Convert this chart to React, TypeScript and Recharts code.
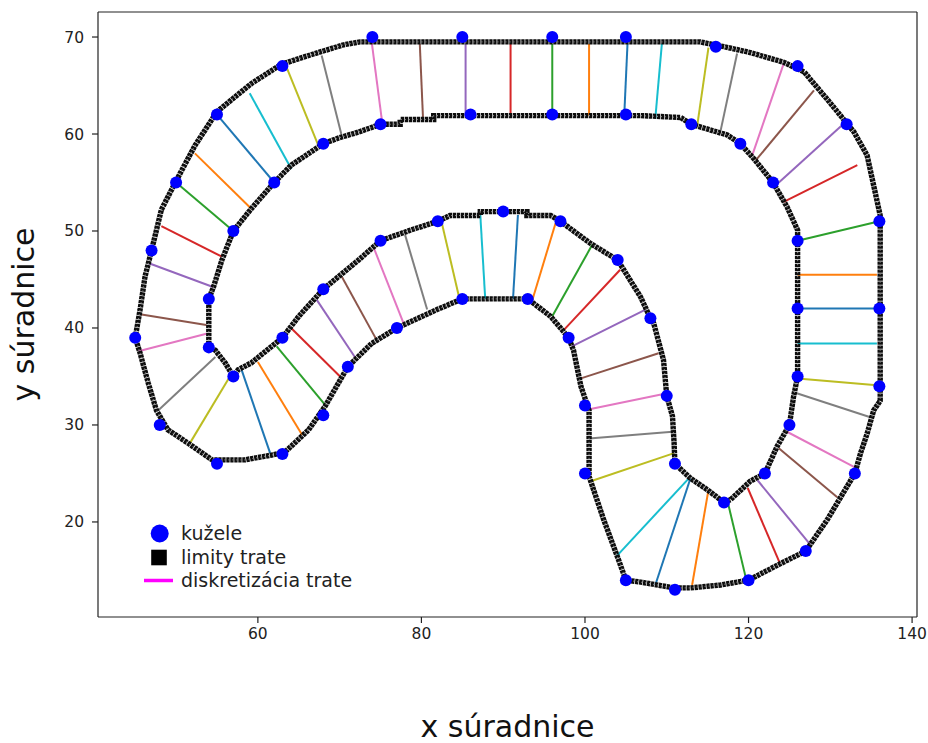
import { ScatterChart, Scatter, XAxis, YAxis, ReferenceLine, Legend, Label } from 'recharts'

// tab10 cycle used by the discretization lines
const TAB10 = ['#1f77b4', '#ff7f0e', '#2ca02c', '#d62728', '#9467bd', '#8c564b', '#e377c2', '#7f7f7f', '#bcbd22', '#17becf']

// cones (outer ring first, then inner)
const coneX = [74, 85, 96, 105, 116, 126, 132, 136, 136, 136, 133, 127, 120, 111, 105, 100, 100, 98, 93, 85, 77, 71, 68, 63, 55, 48, 45, 47, 50, 55, 63,
  75, 86, 96, 105, 113, 119, 123, 126, 126, 126, 125, 122, 117, 111, 110, 108, 104, 97, 90, 82, 75, 68, 63, 57, 54, 54, 57, 62, 68]
const coneY = [70, 70, 70, 70, 69, 67, 61, 51, 42, 34, 25, 17, 14, 13, 14, 25, 32, 39, 43, 43, 40, 36, 31, 27, 26, 30, 39, 48, 55, 62, 67,
  61, 62, 62, 62, 61, 59, 55, 49, 42, 35, 30, 25, 22, 26, 33, 41, 47, 51, 52, 51, 49, 44, 39, 35, 38, 43, 50, 55, 59]

// track limits
const outerX = [48.2, 49.9, 52.3, 55.0, 59.2, 62.9, 66.6, 70.5, 72.5, 114.1, 117.0, 120.2, 124.3, 126.8, 129.6, 132.9, 134.5, 136.1, 136.1, 135.3,
  134.5, 133.7, 133.0, 131.3, 129.6, 127.0, 123.9, 120.0, 116.6, 112.9, 110.9, 106.8, 105.0, 104.1, 102.3, 100.5, 100.5, 99.5, 98.6, 98.0,
  95.8, 93.0, 85.0, 81.9, 77.0, 73.9, 71.0, 68.2, 66.2, 63.3, 61.7, 58.4, 54.4, 51.5, 49.0, 47.6, 46.6, 45.6, 45.0, 45.6, 46.2, 47.0, 48.2]
const outerY = [52.2, 55.0, 58.8, 62.3, 65.2, 67.2, 68.2, 69.2, 69.5, 69.5, 69.0, 68.4, 67.4, 66.4, 63.6, 60.2, 57.8, 51.6, 32.5, 31.5,
  29.1, 27.1, 25.0, 22.6, 20.2, 17.0, 15.7, 14.0, 13.5, 13.2, 13.2, 13.8, 14.0, 16.1, 20.2, 24.7, 31.5, 34.0, 37.7, 39.0,
  41.2, 43.0, 43.0, 41.9, 40.0, 38.4, 36.0, 31.9, 29.5, 27.2, 26.9, 26.4, 26.4, 28.1, 29.5, 31.5, 34.3, 37.4, 39.0, 41.9, 45.3, 48.0, 52.2]
const innerX = [54.0, 54.6, 55.6, 57.0, 59.2, 62.0, 64.1, 68.0, 69.9, 72.3, 75.0, 77.4, 77.4, 81.5, 81.5, 106.8, 111.7, 113.0, 115.0, 117.4,
  119.0, 120.7, 123.0, 124.7, 126.0, 126.0, 125.5, 125.0, 123.5, 122.0, 120.2, 117.8, 117.0, 115.0, 112.9, 111.0, 110.9, 110.7, 110.0, 109.6,
  108.4, 108.0, 106.8, 104.0, 100.7, 97.0, 95.8, 92.9, 92.9, 87.2, 87.2, 83.5, 82.0, 78.7, 75.0, 72.3, 68.0, 65.0, 63.0, 59.2,
  57.6, 57.0, 56.0, 54.8, 54.0, 54.0]
const innerY = [43.0, 44.3, 47.0, 50.0, 52.3, 55.0, 56.8, 59.0, 59.6, 60.2, 61.0, 61.0, 61.5, 61.5, 61.9, 61.9, 61.7, 61.0, 60.5, 59.9,
  59.0, 57.4, 55.0, 52.5, 50.1, 35.0, 32.9, 30.0, 27.8, 25.0, 24.2, 22.3, 22.0, 23.3, 24.5, 26.0, 28.1, 30.9, 33.0, 36.7,
  40.5, 41.0, 43.2, 47.0, 48.7, 51.0, 51.6, 51.6, 52.0, 52.0, 51.6, 51.6, 51.0, 50.1, 49.0, 47.0, 44.0, 41.2, 39.0, 36.4,
  35.7, 35.0, 36.4, 37.7, 38.0, 43.0]

// discretization segments (one end on each limit)
const segX1 = [50, 52.3, 55, 59.0, 63.5, 67.8, 73.9, 79.8, 85.4, 90.9, 96.0, 100.5, 105.2, 109.4, 115.1, 118.6, 124.3, 128.0, 131.7, 133.3,
  136, 135.7, 136, 135.7, 135.7, 134.9, 133.3, 130.85, 127.6, 123.8, 119.75, 113.1, 108.6, 103.9, 100.7, 100.5, 100.4, 99.5, 98.4, 97.2,
  96.0, 93.5, 91.2, 87.8, 84.6, 80.7, 78.0, 74.5, 72.1, 70.05, 68.4, 65.4, 61.5, 57.3, 51.6, 47.8, 45.4, 45.4, 46.6, 48.2]
const segY1 = [55, 58.0, 62, 64.2, 66.9, 68.1, 69.6, 69.3, 69.3, 69.3, 69.3, 69.3, 69.3, 69.3, 68.9, 68.3, 67.25, 64.5, 61.1, 56.8,
  51, 45.5, 42, 38.4, 34.1, 30.8, 25.5, 22.55, 17.6, 15.8, 13.95, 13.5, 13.5, 16.5, 24.2, 28.6, 31.6, 34.8, 38.1, 39.6,
  41.2, 42.7, 43.0, 43.0, 43.2, 41.9, 40.1, 38.8, 36.7, 35.0, 31.9, 29.0, 27.1, 35.4, 28.0, 31.5, 37.6, 41.45, 46.7, 50.5]
const segX2 = [57, 59.2, 62, 64.1, 67.4, 70.2, 75.2, 80.2, 85.4, 90.9, 96.0, 100.5, 104.8, 108.6, 113.7, 116.6, 120.45, 120.9, 123.3, 124.3,
  126, 126, 126, 126, 126, 125.8, 124.7, 123.7, 121.1, 119.9, 117.5, 115.1, 112.9, 112.7, 110.9, 110.7, 109.6, 109.0, 107.4, 104.3,
  100.9, 96.4, 91.8, 87.2, 82.5, 78.0, 74.2, 70.25, 67.2, 64.06, 62.3, 60.0, 58.0, 57.0, 56.8, 54.8, 53.7, 53.7, 54.6, 55.6]
const segY2 = [50, 52.3, 55, 56.4, 58.8, 60.0, 61.2, 61.5, 61.9, 61.9, 61.9, 61.9, 61.9, 61.6, 60.7, 60.4, 57.8, 57.3, 54.7, 53.0,
  49, 45.5, 42, 38.4, 34.8, 33.3, 29.3, 27.6, 24.3, 23.5, 21.9, 23.3, 24.5, 24.5, 27.1, 29.3, 33.2, 37.4, 41.9, 46.0,
  48.6, 50.8, 51.65, 51.65, 50.8, 49.6, 48.2, 45.3, 42.9, 40.0, 38.1, 36.5, 35.7, 34.7, 35.3, 37.0, 39.4, 40.3, 44.2, 47.35]

const xTicks = [60, 80, 100, 120, 140]
const yTicks = [20, 30, 40, 50, 60, 70]
const X_DOMAIN = [40.45, 140.6]
const Y_DOMAIN = [10.2, 72.58]

const FONT = 'DejaVu Sans'

const toPts = (xs: number[], ys: number[]) => xs.map((x, i) => ({ x, y: ys[i] }))
const cones = toPts(coneX, coneY)
const outer = toPts(outerX, outerY)
const inner = toPts(innerX, innerY)

const noDot = () => <g />
const coneDot = (p: any) => <circle cx={p.cx} cy={p.cy} r={6} fill="#0000ff" />

const limitLine = { stroke: '#0d0d0d', strokeWidth: 5.4, strokeDasharray: '3.3 0.7' }
const limitInner = { stroke: '#7a7a7a', strokeWidth: 1.1, strokeDasharray: '1.2 2.8' }

const LegendBox = () => {
  const row = { display: 'flex', alignItems: 'center', height: 23.4 }
  return (
    <div style={{ fontFamily: FONT, fontSize: 19, color: '#222', lineHeight: '23px' }}>
      <div style={row}>
        <svg width={38} height={23}><circle cx={16.7} cy={11.5} r={9} fill="#0000ff" /></svg>
        <span>kužele</span>
      </div>
      <div style={row}>
        <svg width={38} height={23}><rect x={8.2} y={3.7} width={15.6} height={15.6} fill="#000" /></svg>
        <span>limity trate</span>
      </div>
      <div style={row}>
        <svg width={38} height={23}><line x1={1} y1={11.5} x2={30} y2={11.5} stroke="#ff00ff" strokeWidth={3.5} /></svg>
        <span>diskretizácia trate</span>
      </div>
    </div>
  )
}

export default function App() {
  const tick = { fill: '#222', fontSize: 15.5, fontFamily: FONT }
  const spine = { stroke: '#222', strokeWidth: 1.2 }
  return (
    <div style={{ position: 'absolute', left: 0, top: 0, background: '#fff' }}>
      <ScatterChart width={928} height={743} margin={{ top: 12, right: 11, left: 0, bottom: 0 }}>
        <XAxis
          type="number" dataKey="x" domain={X_DOMAIN} allowDataOverflow ticks={xTicks}
          height={126} tickSize={6} tickMargin={5} tick={tick}
          axisLine={spine} tickLine={spine}
        >
          <Label value="x súradnice" position="insideBottom" offset={6}
            style={{ fontFamily: FONT, fontSize: 30, fill: '#111' }} />
        </XAxis>
        <YAxis
          type="number" dataKey="y" domain={Y_DOMAIN} allowDataOverflow ticks={yTicks}
          width={98} tickSize={6} tickMargin={8} tick={tick}
          axisLine={spine} tickLine={spine}
        >
          <Label value="y súradnice" angle={-90} position="insideLeft" offset={23}
            style={{ fontFamily: FONT, fontSize: 30, fill: '#111', textAnchor: 'middle' }} />
        </YAxis>

        {/* top and right spines */}
        <ReferenceLine y={Y_DOMAIN[1]} stroke="#222" strokeWidth={1.2} ifOverflow="visible" />
        <ReferenceLine x={X_DOMAIN[1]} stroke="#222" strokeWidth={1.2} ifOverflow="visible" />

        <Scatter data={outer} line={limitLine} shape={noDot} isAnimationActive={false} legendType="none" />
        <Scatter data={inner} line={limitLine} shape={noDot} isAnimationActive={false} legendType="none" />
        <Scatter data={outer} line={limitInner} shape={noDot} isAnimationActive={false} legendType="none" />
        <Scatter data={inner} line={limitInner} shape={noDot} isAnimationActive={false} legendType="none" />

        {segX1.map((x1, i) => (
          <ReferenceLine
            key={i}
            segment={[{ x: x1, y: segY1[i] }, { x: segX2[i], y: segY2[i] }]}
            stroke={TAB10[(((12 - i) % 10) + 10) % 10]}
            strokeWidth={2}
            ifOverflow="visible"
          />
        ))}

        <Scatter data={cones} shape={coneDot} isAnimationActive={false} legendType="none" />

        <Legend content={LegendBox} layout="horizontal" verticalAlign="middle" align="center"
          wrapperStyle={{ left: 143, top: 522, width: 'auto' }} />
      </ScatterChart>
    </div>
  )
}
